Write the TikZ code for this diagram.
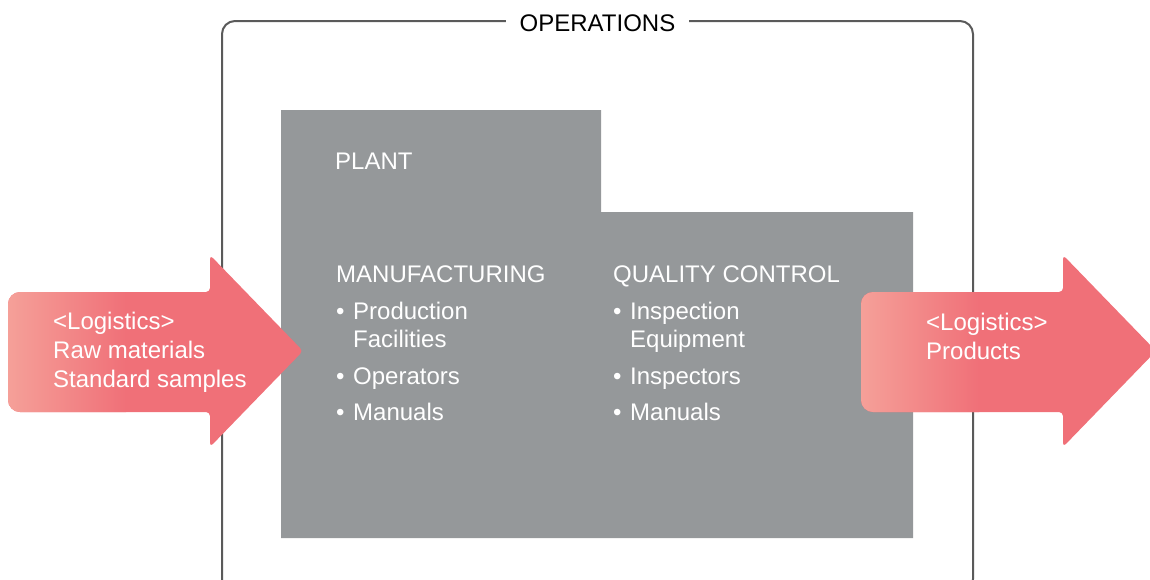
\documentclass[tikz,border=0pt]{standalone}
\usepackage{fontspec}
\setmainfont{Liberation Sans}
\definecolor{plantgray}{HTML}{95989A}
\definecolor{framegray}{HTML}{5A5A5A}
\definecolor{arrowred}{HTML}{F07078}
\definecolor{arrowpink}{HTML}{F5A29A}

\tikzset{
	logarrow/.pic={
		\path[clip] (100,292) [rounded corners=4pt] -- (202,292) -- (202,255) -- (295,351) -- (202,447) -- (202,412)
			[rounded corners=12pt] -- (0,412) -- (0,292) -- cycle;
		\fill[arrowred] (-5,250) rectangle (300,450);
		\shade[left color=arrowpink, right color=arrowred] (-5,250) rectangle (118,450);
	}
}

\begin{document}
\begin{tikzpicture}[x=1pt, y=-1pt,
		txt/.style={font=\fontsize{24}{28}\selectfont, text=white, inner sep=0pt, anchor=base west, align=left},
		bul/.style={txt},
		arrowtxt/.style={txt, font=\fontsize{24}{29}\selectfont}]
	\useasboundingbox (0,0) rectangle (1150,579);
	\draw[framegray, line width=2pt, rounded corners=13pt] (222,21) rectangle (973,592);
	\node[font=\fontsize{24}{28}\selectfont, fill=white, inner xsep=14pt, inner ysep=2pt, anchor=base] (ops) at (597.5,31.5) {OPERATIONS};
	\fill[plantgray] (281,110) -- (601,110) -- (601,212) -- (913,212) -- (913,538) -- (281,538) -- cycle;
	\pic at (8,0) {logarrow};
	\pic at (861,0) {logarrow};
	% multi-line nodes sit on the baseline of their last line
	\node[arrowtxt] (supply) at (53,387) {<Logistics>\\Raw materials\\Standard samples};
	\node[arrowtxt] (delivery) at (926,359) {<Logistics>\\Products};
	\node[txt] (plant) at (335,169) {PLANT};
	\node[txt] (mfg) at (336,282) {MANUFACTURING};
	\node[bul] (mfgb1) at (336,319) {•};
	\node[txt] (mfg1) at (353,347) {Production\\Facilities};
	\node[bul] (mfgb2) at (336,384) {•};
	\node[txt] (mfg2) at (353,384) {Operators};
	\node[bul] (mfgb3) at (336,420) {•};
	\node[txt] (mfg3) at (353,420) {Manuals};
	\node[txt] (qc) at (613,282) {QUALITY CONTROL};
	\node[bul] (qcb1) at (613,319) {•};
	\node[txt] (qc1) at (630,347) {Inspection\\Equipment};
	\node[bul] (qcb2) at (613,384) {•};
	\node[txt] (qc2) at (630,384) {Inspectors};
	\node[bul] (qcb3) at (613,420) {•};
	\node[txt] (qc3) at (630,420) {Manuals};
\end{tikzpicture}
\end{document}
